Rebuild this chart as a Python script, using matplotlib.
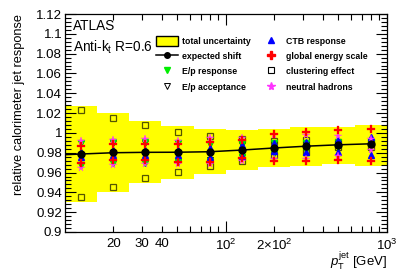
import numpy as np
import matplotlib
matplotlib.use("Agg")
import matplotlib.pyplot as plt
from matplotlib.ticker import FixedLocator, MultipleLocator, FuncFormatter
from matplotlib.patches import Patch
from matplotlib.lines import Line2D

plt.rcParams['font.family'] = ['Liberation Sans', 'DejaVu Sans']
plt.rcParams['mathtext.fontset'] = 'custom'
plt.rcParams['mathtext.rm'] = 'Liberation Sans'
plt.rcParams['mathtext.it'] = 'Liberation Sans:italic'

# ---- data ----
bin_edges = [10, 15.8, 25.1, 39.8, 63.1, 100, 158, 251, 398, 631, 1000]
pt = [12.6, 20.0, 31.6, 50.1, 79.4, 126, 200, 316, 501, 794]

band_top = [1.0274, 1.0198, 1.0123, 1.0073, 1.0040, 1.0030, 1.0036, 1.0056, 1.0063, 1.0080]
band_bot = [0.9300, 0.9407, 0.9491, 0.9535, 0.9585, 0.9626, 0.9659, 0.9669, 0.9686, 0.9670]

shift = [0.9787, 0.9804, 0.9804, 0.9805, 0.9807, 0.9827, 0.9850, 0.9866, 0.9882, 0.9893]
shift_line_x = [10, 12.6, 20.0, 31.6, 50.1, 79.4, 126, 200, 316, 501, 794]
shift_line_y = [0.9780, 0.9787, 0.9800, 0.9804, 0.9805, 0.9810, 0.9827, 0.9848, 0.9866, 0.9880, 0.9890]

ep_resp_up = [0.9900, 0.9905, 0.9910, 0.9900, 0.9890, 0.9890, 0.9900, 0.9900, 0.9905, 0.9910]
ep_resp_dn = [0.9680, 0.9700, 0.9700, 0.9710, 0.9720, 0.9755, 0.9800, 0.9830, 0.9860, 0.9880]
ep_acc_up = [0.9895, 0.9895, 0.9900, 0.9895, 0.9885, 0.9880, 0.9890, 0.9890, 0.9900, 0.9900]
ep_acc_dn = [0.9680, 0.9700, 0.9700, 0.9710, 0.9730, 0.9760, 0.9800, 0.9830, 0.9860, 0.9880]
ctb_up = [0.9810, 0.9830, 0.9830, 0.9830, 0.9850, 0.9880, 0.9900, 0.9910, 0.9928, 0.9962]
ctb_dn = [0.9760, 0.9780, 0.9780, 0.9780, 0.9760, 0.9770, 0.9820, 0.9810, 0.9810, 0.9780]
ges_up = [0.9870, 0.9888, 0.9888, 0.9885, 0.9911, 0.9928, 0.9985, 1.0009, 1.0030, 1.0040]
ges_dn = [0.9696, 0.9726, 0.9726, 0.9710, 0.9710, 0.9743, 0.9720, 0.9720, 0.9726, 0.9717]
clus_up = [1.0228, 1.0153, 1.0080, 1.0012, 0.9969, 0.9938, 0.9920, 0.9925, 0.9910, 0.9910]
clus_dn = [0.9353, 0.9457, 0.9542, 0.9602, 0.9669, 0.9717, 0.9777, 0.9810, 0.9860, 0.9860]
nh_up = [0.9918, 0.9928, 0.9938, 0.9918, 0.9945, 0.9951, 0.9975, 0.9980, 0.9969, 0.9940]
nh_dn = [0.9649, 0.9676, 0.9683, 0.9683, 0.9690, 0.9720, 0.9740, 0.9740, 0.9767, 0.9830]

xtick_labels = {20: '20', 30: '30', 40: '40', 100: r'$10^{2}$', 200: r'$2{\times}10^{2}$', 1000: r'$10^{3}$'}

# ---- figure ----
fig = plt.figure(figsize=(4.07, 2.76), dpi=100)
ax = fig.add_axes([65/407, 44/276, (386.7-65)/407, (232-14)/276])

ax.stairs(band_top, bin_edges, baseline=band_bot, fill=True, color='#ffff00', lw=0, zorder=1)

ms = 4.2
def pair(up, dn, **kw):
    ax.plot(pt, up, ls='none', zorder=3, **kw)
    ax.plot(pt, dn, ls='none', zorder=3, **kw)

pair(clus_up, clus_dn, marker='s', ms=4.6, mfc='none', mec='#555500', mew=0.9)
pair(ep_acc_up, ep_acc_dn, marker='v', ms=ms, mfc='none', mec='black', mew=0.7)
pair(ep_resp_up, ep_resp_dn, marker='v', ms=ms, color='#00ee00', mec='#00ee00')
pair(ctb_up, ctb_dn, marker='^', ms=ms+0.5, color='#0000ff', mec='#0000ff')
pair(nh_up, nh_dn, marker='*', ms=ms+1.2, color='#ff33ff', mec='#ff33ff', mew=0.3)
pair(ges_up, ges_dn, marker='P', ms=ms+1.0, color='#ff0000', mec='#ff0000', mew=0.2)

ax.plot(shift_line_x, shift_line_y, color='black', lw=1.1, zorder=4)
ax.plot(pt, shift, ls='none', marker='o', ms=5, color='black', zorder=5)

ax.set_xscale('log')
ax.set_xlim(10, 1000)
ax.set_ylim(0.9, 1.12)

ax.yaxis.set_major_locator(MultipleLocator(0.02))
ax.yaxis.set_minor_locator(MultipleLocator(0.004))
ax.yaxis.set_major_formatter(FuncFormatter(lambda v, p: ('%.2f' % v).rstrip('0').rstrip('.')))

ax.xaxis.set_major_locator(FixedLocator([100, 1000]))
minors = [m * d for d in (10, 100) for m in range(2, 10)]
ax.xaxis.set_minor_locator(FixedLocator(minors))
def xfmt(v, p):
    for k, s in xtick_labels.items():
        if abs(v - k) < 1e-6 * k:
            return s
    return ''
ax.xaxis.set_major_formatter(FuncFormatter(xfmt))
ax.xaxis.set_minor_formatter(FuncFormatter(xfmt))

ax.tick_params(which='both', direction='in', top=True, right=True, labelsize=9.5, width=0.8)
ax.tick_params(axis='y', which='major', length=8, pad=2)
ax.tick_params(axis='y', which='minor', length=4)
ax.tick_params(axis='x', which='major', length=8, pad=4)
ax.tick_params(axis='x', which='minor', length=4, pad=4)
for s in ax.spines.values():
    s.set_linewidth(0.9)

ax.set_ylabel('relative calorimeter jet response', fontsize=9.2, loc='top')
ax.yaxis.set_label_coords(-0.125, 1.0)
ax.set_xlabel(r'$p_{\mathrm{T}}^{\mathrm{jet}}$ [GeV]', fontsize=9.5, loc='right')
ax.xaxis.set_label_coords(1.0, -0.085)

ax.text(0.025, 0.975, 'ATLAS', transform=ax.transAxes, fontsize=9.8, va='top', ha='left')
ax.text(0.025, 0.885, r'Anti-k$_{\mathrm{t}}$ R=0.6', transform=ax.transAxes, fontsize=9.8, va='top', ha='left')

handles = [
    Patch(facecolor='#ffff00', edgecolor='black', lw=1.0),
    Line2D([], [], color='black', lw=1.1, marker='o', ms=4),
    Line2D([], [], ls='none', marker='v', ms=ms, color='#00ee00'),
    Line2D([], [], ls='none', marker='v', ms=ms, mfc='none', mec='black', mew=0.7),
    Line2D([], [], ls='none', marker='^', ms=ms, color='#0000ff'),
    Line2D([], [], ls='none', marker='P', ms=ms+1, color='#ff0000'),
    Line2D([], [], ls='none', marker='s', ms=4.2, mfc='none', mec='black', mew=0.8),
    Line2D([], [], ls='none', marker='*', ms=ms+1.5, color='#ff33ff'),
]
labels = ['total uncertainty', 'expected shift', 'E/p response', 'E/p acceptance',
          'CTB response', 'global energy scale', 'clustering effect', 'neutral hadrons']
leg = ax.legend(handles, labels, ncol=2, frameon=False, loc='upper left',
                bbox_to_anchor=(0.272, 0.915), prop={'weight': 'bold', 'size': 6.3},
                handlelength=2.5, handleheight=1.35, columnspacing=1.1, labelspacing=0.62,
                handletextpad=0.45, borderaxespad=0)

fig.savefig('out.png', dpi=100)
